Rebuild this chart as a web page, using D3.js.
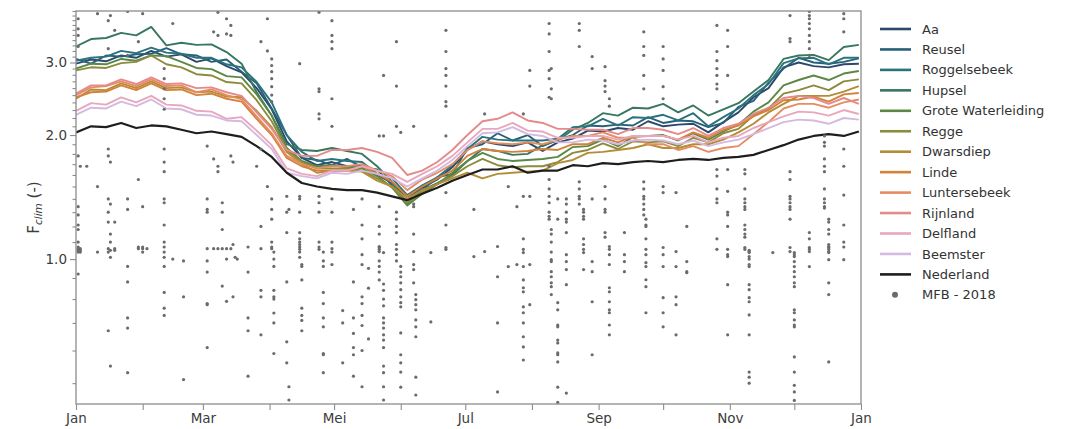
<!DOCTYPE html>
<html>
<head>
<meta charset="utf-8">
<script src="https://cdn.jsdelivr.net/npm/d3@7"></script>
<style>
  body { margin: 0; background: #fff; }
  svg { display: block; font-family: "DejaVu Sans", sans-serif; }
</style>
</head>
<body>
<svg id="chart" width="1070" height="429"></svg>
<script>
// ---- data -------------------------------------------------------------
// weekly samples (day of year 2018) of the climate factor per region
const weekDays = d3.range(0, 365, 7);

const seriesNames = ["Aa", "Reusel", "Roggelsebeek", "Hupsel", "Grote Waterleiding", "Regge",
  "Dwarsdiep", "Linde", "Luntersebeek", "Rijnland", "Delfland", "Beemster", "Nederland"];

const seriesColors = ["#2b4a6b", "#27607a", "#2b737c", "#37775f", "#5b8845", "#8b8b3c",
  "#b38d35", "#d4823b", "#e58c62", "#e58a8a", "#e9a7bd", "#d5b9e0", "#1e1e1e"];

const aa = [2.98,3.05,3.02,3.12,3.08,3.20,3.10,3.14,3.01,3.07,2.94,2.84,2.60,2.31,1.93,1.76,1.69,1.72,1.68,1.69,1.60,1.53,1.42,1.49,1.56,1.67,1.84,1.93,1.90,1.88,1.92,1.83,1.92,1.96,2.05,2.04,2.08,2.06,2.16,2.10,2.12,2.13,2.03,2.15,2.27,2.47,2.60,2.92,3.00,2.94,2.92,2.97,2.98];
const reusel = [3.06,2.98,3.12,3.10,3.14,3.15,3.25,3.14,3.12,3.01,3.05,2.85,2.67,2.32,2.00,1.76,1.74,1.69,1.75,1.67,1.65,1.51,1.42,1.47,1.58,1.61,1.86,1.90,2.02,1.94,2.00,1.88,1.95,2.00,2.11,2.10,2.12,2.11,2.21,2.14,2.17,2.16,2.09,2.14,2.34,2.42,2.68,2.90,3.08,3.00,2.98,3.01,3.07];
const roggelsebeek = [3.03,3.08,3.10,3.20,3.16,3.26,3.17,3.15,3.08,3.08,2.97,2.92,2.69,2.40,2.00,1.82,1.73,1.75,1.73,1.72,1.61,1.57,1.43,1.51,1.58,1.69,1.85,1.98,1.95,1.94,1.94,1.94,1.96,2.09,2.10,2.19,2.11,2.21,2.20,2.24,2.17,2.26,2.10,2.21,2.32,2.50,2.66,2.99,3.07,3.08,2.97,3.08,3.08];
const hupsel = [3.28,3.42,3.44,3.54,3.49,3.66,3.30,3.35,3.31,3.32,3.18,2.98,2.54,2.23,1.90,1.84,1.83,1.86,1.83,1.80,1.68,1.54,1.36,1.47,1.53,1.60,1.73,1.85,1.83,1.79,1.80,1.89,1.94,2.06,2.14,2.26,2.23,2.33,2.32,2.38,2.27,2.36,2.23,2.31,2.39,2.55,2.72,3.06,3.12,3.13,3.04,3.27,3.31];
const groteWaterleiding = [2.90,2.98,2.97,3.06,3.03,3.12,3.11,3.01,2.91,2.89,2.78,2.76,2.51,2.23,1.86,1.73,1.68,1.69,1.67,1.66,1.59,1.49,1.35,1.44,1.52,1.62,1.73,1.81,1.75,1.73,1.74,1.75,1.77,1.87,1.88,1.95,1.88,1.98,1.99,2.00,1.94,2.02,1.95,2.04,2.12,2.28,2.40,2.64,2.72,2.79,2.72,2.82,2.86];
const regge = [2.87,2.92,2.91,2.99,3.01,3.12,2.97,2.92,2.81,2.79,2.69,2.67,2.43,2.16,1.84,1.72,1.66,1.66,1.66,1.64,1.57,1.50,1.37,1.45,1.52,1.59,1.68,1.75,1.69,1.67,1.68,1.68,1.72,1.81,1.84,1.91,1.85,1.93,1.92,1.93,1.88,1.97,1.92,2.02,2.07,2.23,2.32,2.52,2.57,2.64,2.57,2.70,2.73];
const dwarsdiep = [2.45,2.58,2.57,2.67,2.60,2.70,2.60,2.61,2.54,2.55,2.48,2.47,2.29,2.09,1.82,1.70,1.62,1.64,1.64,1.63,1.55,1.50,1.40,1.47,1.52,1.57,1.62,1.57,1.61,1.62,1.63,1.64,1.71,1.74,1.81,1.82,1.84,1.86,1.90,1.86,1.86,1.90,1.90,1.95,2.03,2.13,2.27,2.38,2.49,2.49,2.49,2.55,2.63];
const linde = [2.47,2.54,2.55,2.64,2.57,2.67,2.57,2.58,2.50,2.52,2.45,2.41,2.19,2.00,1.76,1.68,1.64,1.64,1.64,1.68,1.61,1.54,1.42,1.50,1.57,1.64,1.78,1.85,1.83,1.82,1.83,1.85,1.84,1.90,1.90,1.97,1.92,1.99,1.99,1.99,1.95,2.03,1.97,2.06,2.11,2.22,2.30,2.43,2.44,2.48,2.41,2.51,2.53];
const luntersebeek = [2.50,2.61,2.63,2.70,2.63,2.73,2.63,2.64,2.54,2.58,2.50,2.44,2.22,2.02,1.78,1.70,1.66,1.68,1.68,1.70,1.64,1.59,1.47,1.56,1.62,1.70,1.84,1.93,1.91,1.90,1.92,1.90,1.95,1.99,1.99,2.03,1.97,1.97,1.90,1.90,1.84,1.88,1.82,1.86,1.88,2.01,2.15,2.32,2.38,2.38,2.33,2.40,2.44];
const rijnland = [2.52,2.64,2.64,2.73,2.66,2.76,2.66,2.67,2.60,2.61,2.54,2.49,2.27,2.07,1.84,1.78,1.78,1.84,1.84,1.86,1.82,1.76,1.60,1.64,1.72,1.84,2.00,2.16,2.19,2.27,2.17,2.14,2.07,2.07,2.06,2.06,2.01,2.08,2.08,2.06,2.01,2.08,1.99,2.08,2.13,2.25,2.33,2.46,2.49,2.46,2.38,2.46,2.38];
const delfland = [2.29,2.39,2.37,2.47,2.40,2.49,2.37,2.36,2.29,2.28,2.19,2.21,2.05,1.89,1.66,1.61,1.59,1.64,1.64,1.68,1.64,1.61,1.54,1.61,1.68,1.78,1.92,2.07,2.07,2.14,2.05,2.04,1.97,1.97,1.99,1.99,1.95,1.99,1.99,1.99,1.95,1.99,1.92,1.97,1.99,2.08,2.15,2.22,2.28,2.27,2.23,2.30,2.25];
const beemster = [2.24,2.33,2.32,2.41,2.35,2.44,2.32,2.31,2.24,2.23,2.17,2.16,2.00,1.85,1.62,1.59,1.57,1.62,1.61,1.64,1.61,1.57,1.50,1.57,1.64,1.74,1.88,2.02,2.03,2.09,2.01,1.99,1.92,1.92,1.95,1.94,1.90,1.94,1.95,1.94,1.90,1.94,1.88,1.92,1.95,2.01,2.08,2.15,2.18,2.17,2.13,2.20,2.18];
const nederland = [2.03,2.10,2.09,2.14,2.08,2.11,2.10,2.06,2.02,2.04,2.01,1.98,1.88,1.77,1.62,1.53,1.50,1.48,1.47,1.47,1.45,1.42,1.39,1.44,1.49,1.55,1.60,1.65,1.65,1.68,1.62,1.64,1.64,1.69,1.68,1.71,1.70,1.72,1.73,1.72,1.74,1.75,1.74,1.76,1.77,1.79,1.84,1.89,1.95,1.99,2.01,1.99,2.04];

const seriesValues = [aa, reusel, roggelsebeek, hupsel, groteWaterleiding, regge,
  dwarsdiep, linde, luntersebeek, rijnland, delfland, beemster, nederland];

// MFB 2018 observations: [day of year, [values on that day]]
const mfb2018 = [
  [1, [3.83,3.62,3.49,3.28,1.78,1.34,1.28,1.21,1.18,1.10,1.07,1.06,1.05,1.04,0.92]],
  [2, [1.68,1.06,1.04,1.05]],
  [5, [1.68]],
  [10, [3.94,1.50,1.04]],
  [15, [3.79,3.24,1.85,1.78,1.40,1.30,1.23,1.06,1.04,0.67]],
  [16, [3.90,1.72,1.36,1.15,1.10,1.05,1.01,0.55]],
  [18, [3.59,1.23,1.06,1.05]],
  [24, [3.99,3.12,1.40,1.32,0.96,0.88,0.72,0.68,0.53]],
  [29, [3.37,1.56,1.07,1.06]],
  [31, [3.94,1.34,1.07,1.06,1.04]],
  [33, [1.06]],
  [41, [2.90,2.74,2.59,2.45,2.31,1.85,1.72,1.63,1.40,1.37,1.21,1.10,1.07,1.04,1.01,0.96,0.83,0.76,0.73]],
  [45, [3.73,1.00]],
  [50, [0.99,0.81,0.51]],
  [61, [1.88,1.40,1.32,1.30,1.06,0.99,0.93,0.78,0.775,0.61]],
  [64, [3.56,1.75,1.06]],
  [66, [3.97,3.49,1.68,1.63,1.06]],
  [68, [1.37,1.30,1.18,1.06,0.86]],
  [70, [3.83,3.52,1.06,1.00,0.79]],
  [72, [3.69,3.49,1.78,1.06]],
  [73, [1.72,1.085,0.81]],
  [74, [1.01]],
  [75, [1.00]],
  [80, [1.07,0.93,0.72,0.67,0.52]],
  [84, [1.68]],
  [86, [3.37,1.85,1.20,1.06,0.84,0.81,0.655]],
  [89, [3.83,3.20,1.50]],
  [91, [3.06,2.95,2.85,2.74,2.62,2.50,2.41,1.40,1.32,1.25,1.10,1.07,1.06]],
  [92, [1.04,1.00,0.96,0.84,0.81,0.80,0.74,0.70,0.59]],
  [98, [1.42,1.30,1.16,0.88,0.63,0.56]],
  [99, [1.32,0.49,0.455]],
  [104, [2.98,1.42,1.40,1.30,1.16,1.12,1.10,1.085,1.07,1.056,1.04,1.01]],
  [105, [0.97,0.96,0.89,0.76,0.73,0.71,0.67]],
  [113, [3.97,2.59,2.55,2.25,2.19,1.42,1.37,1.30,1.10,1.07,1.056]],
  [115, [1.04,0.99,0.96,0.83,0.78,0.72,0.685,0.59,0.586,0.53]],
  [119, [3.79,3.49,3.37,3.24,2.45,2.10,1.40,1.30,1.10,1.06,1.04,0.97]],
  [124, [0.75,0.70,0.56]],
  [129, [1.32,0.88,0.72,0.66,0.61,0.586,0.52]],
  [133, [1.40,1.21,1.12,1.025,0.97,0.81,0.78,0.73,0.69,0.60,0.49]],
  [136, [0.95,0.85,0.64]],
  [141, [1.99,1.34,1.20,1.15,1.073,1.067,1.056,1.043,0.99,0.96,0.93,0.89]],
  [143, [2.79,1.99,1.037,0.87,0.84,0.80,0.77,0.72,0.70,0.68,0.655,0.636,0.61,0.55,0.53,0.49,0.455]],
  [149, [3.37,2.63,2.10,1.30,1.25,1.20,1.16,1.085,1.056,1.025,0.99]],
  [151, [2.03,0.96,0.93,0.906,0.876,0.843,0.81,0.784,0.766,0.662,0.586,0.56,0.532,0.489]],
  [157, [2.10,1.36,1.34,1.15,1.043,0.97,0.943,0.876]],
  [158, [0.82,0.797,0.775,0.753,0.712,0.685,0.648,0.517,0.468]],
  [165, [1.037,0.704]],
  [172, [3.59,3.19,2.90,2.79,2.63,2.41,2.35,1.99,1.45,1.21,1.067,1.056]],
  [185, [1.32,1.014]],
  [190, [2.25,1.043]],
  [196, [1.073,0.906,0.70,0.476]],
  [201, [1.50,0.959]],
  [205, [1.34,0.97]],
  [208, [2.25,1.42,1.12,1.056,1.037,0.959,0.89,0.852,0.833,0.766,0.741,0.70,0.648,0.612,0.569]],
  [211, [2.87,2.63,1.42,0.97,0.775]],
  [220, [3.73,3.52,3.19,2.87,2.74,2.47,1.68,1.56,1.48,1.42,1.37,1.30,1.27,1.25]],
  [221, [2.90,2.59,2.45,1.18,1.15,1.10,1.04,0.997,0.986,0.932,0.906,0.876,0.857,0.82]],
  [224, [1.40,1.25,0.784,0.753,0.692,0.685,0.636,0.626,0.592,0.586,0.563,0.489,0.449]],
  [228, [1.40,1.36,1.30,1.25,1.23,1.16,1.025,0.986,0.943,0.867,0.473]],
  [234, [3.73,3.59,3.28,1.54,1.48,1.42,1.40,1.36]],
  [236, [1.32,1.30,1.27,1.25,1.12,1.085,1.056,1.037,0.943]],
  [240, [3.10,2.90,1.40,0.986,0.932,0.788,0.586]],
  [246, [2.93,2.71,2.63,2.55,1.50,1.40,1.32,1.30,1.16,1.13]],
  [248, [2.45,2.35,1.073,1.056,1.025,0.97,0.852,0.833,0.788,0.753,0.741,0.692,0.655]],
  [255, [1.16,1.025,0.986,0.932]],
  [264, [3.56,3.28,3.12,2.79,2.59,1.54,1.48,1.42,1.40,1.36,1.32,1.28]],
  [265, [1.25,1.21,1.20,1.12,1.056,1.025,0.98,0.959,0.891,0.857,0.741]],
  [273, [3.28,3.06,2.87,2.62,2.45,1.50,1.45,1.067,1.025,0.959,0.806,0.741,0.685]],
  [279, [1.45,1.043,0.959,0.81,0.775,0.655]],
  [284, [1.20,0.986,0.932,0.927]],
  [298, [3.69,3.19,3.03,2.90,2.79,2.66,2.59,2.41,1.65,1.59,1.48,1.40,1.37,1.12,1.056]],
  [303, [3.59,3.28,2.79,1.65,1.46,1.30,1.28,1.20,1.056,1.025,1.014,0.867,0.655]],
  [311, [1.65,1.61,1.48,1.40,1.37,1.34,1.32,1.21,1.18,1.15,1.13,1.067,1.056]],
  [313, [1.05,1.043,1.037,1.014,1.0,0.97,0.959,0.867,0.843,0.806,0.788,0.732,0.655,0.532,0.517,0.50]],
  [324, [1.037]],
  [332, [3.90,3.43,3.37,1.63,1.56,1.42,1.37,1.40,1.34,1.32,1.25,1.067,1.043]],
  [334, [1.037,1.025,1.014,0.986,0.959,0.932,0.906,0.876,0.857,0.753,0.741,0.712,0.692,0.685,0.579,0.532,0.494,0.476,0.454]],
  [341, [3.99,3.90,3.83,3.73,3.62,3.49,3.37,3.24,3.12,1.16,1.12,1.067,1.056,1.043,0.959]],
  [348, [1.99,1.92,1.88,1.75,1.68,1.63,1.48,1.40,1.34,1.37,1.33]],
  [350, [1.25,1.23,1.18,1.15,1.085,1.073,1.067,1.056,1.043,1.037,0.997,0.876,0.82,0.563]],
  [357, [3.94,3.83,3.56,1.85,1.68,1.43,1.21,1.10,1.07,0.997]]
];

const monthLabels = ["Jan","Feb","Mar","Apr","Mei","Jun","Jul","Aug","Sep","Okt","Nov","Dec","Jan"];
const yMajorTicks = [1, 2, 3];
const yMajorLabels = ["1.0", "2.0", "3.0"];
const yMinorTicks = [0.5,0.6,0.7,0.8,0.9,1.1,1.2,1.3,1.4,1.5,1.6,1.7,1.8,1.9,
  2.1,2.2,2.3,2.4,2.5,2.6,2.7,2.8,2.9,3.1,3.2,3.3,3.4,3.5,3.6,3.7,3.8,3.9,4.0];
const yDomain = [0.445, 4.0];
const mfbLabel = "MFB - 2018";

// ---- layout -----------------------------------------------------------
const box = { left: 76, right: 861, top: 11, bottom: 404 };
const svg = d3.select("#chart");
const t0 = Date.UTC(2018, 0, 1);
const dayDate = d => new Date(t0 + d * 864e5);

const x = d3.scaleUtc().domain([dayDate(0), new Date(Date.UTC(2019, 0, 1))]).range([box.left, box.right]);
const y = d3.scaleLog().domain(yDomain).range([box.bottom, box.top]);

svg.append("defs").append("clipPath").attr("id", "plotclip")
  .append("rect").attr("x", box.left).attr("y", box.top)
  .attr("width", box.right - box.left).attr("height", box.bottom - box.top);

const plot = svg.append("g").attr("clip-path", "url(#plotclip)");

// lines
const line = d3.line().x((d, i) => x(dayDate(weekDays[i]))).y(d => y(d));
seriesValues.forEach((vals, k) => {
  plot.append("path")
    .datum(vals.slice(0, weekDays.length))
    .attr("d", line)
    .attr("fill", "none")
    .attr("stroke", seriesColors[k])
    .attr("stroke-width", k === 12 ? 2.2 : 1.9)
    .attr("stroke-linejoin", "round");
});

// observations
const pts = mfb2018.flatMap(([d, vs]) => vs.map(v => [d, v]));
plot.append("g").selectAll("circle").data(pts).join("circle")
  .attr("cx", d => x(dayDate(d[0])))
  .attr("cy", d => y(d[1]))
  .attr("r", 1.6)
  .attr("fill", "#6b6b6b");

// axes
const axisColor = "#8c8c8c";
const months = d3.range(13).map(m => new Date(Date.UTC(2018, m, 1)));
const xAxis = svg.append("g").attr("transform", `translate(0,${box.bottom})`)
  .call(d3.axisBottom(x).tickValues(months)
    .tickFormat((d, i) => i % 2 === 0 ? monthLabels[i] : "")
    .tickSize(6).tickPadding(3));
const yAxis = svg.append("g").attr("transform", `translate(${box.left},0)`)
  .call(d3.axisLeft(y).tickValues(yMajorTicks)
    .tickFormat((d, i) => yMajorLabels[i]).tickSize(6).tickPadding(3));
const yMinor = svg.append("g").attr("transform", `translate(${box.left},0)`)
  .call(d3.axisLeft(y).tickValues(yMinorTicks).tickFormat("").tickSize(3.5));

[xAxis, yAxis, yMinor].forEach(g => {
  g.select(".domain").remove();
  g.selectAll(".tick line").attr("stroke", axisColor).attr("stroke-width", 1.1);
  g.selectAll(".tick text").attr("fill", "#3c3c3c").attr("font-size", 13.5)
    .attr("font-family", "DejaVu Sans, sans-serif");
});

svg.append("rect")
  .attr("x", box.left).attr("y", box.top)
  .attr("width", box.right - box.left).attr("height", box.bottom - box.top)
  .attr("fill", "none").attr("stroke", axisColor).attr("stroke-width", 1.3);

// y label
const yl = svg.append("text")
  .attr("transform", `translate(39,${(box.top + box.bottom) / 2}) rotate(-90)`)
  .attr("text-anchor", "middle").attr("fill", "#3c3c3c").attr("font-size", 15);
yl.append("tspan").text("F");
yl.append("tspan").attr("font-size", 10.5).attr("font-style", "italic").attr("dy", 3).text("clim");
yl.append("tspan").attr("dy", -3).text(" (-)");

// legend
const leg = svg.append("g");
const legTop = 29, legStep = 20.45;
seriesNames.forEach((name, k) => {
  const ly = legTop + k * legStep;
  leg.append("line").attr("x1", 880).attr("x2", 911).attr("y1", ly).attr("y2", ly)
    .attr("stroke", seriesColors[k]).attr("stroke-width", 2.6);
  leg.append("text").attr("x", 922).attr("y", ly).attr("dy", "0.35em")
    .attr("font-size", 13).attr("fill", "#333").text(name);
});
const mfbY = legTop + seriesNames.length * legStep;
leg.append("circle").attr("cx", 895).attr("cy", mfbY).attr("r", 3).attr("fill", "#6b6b6b");
leg.append("text").attr("x", 922).attr("y", mfbY).attr("dy", "0.35em")
  .attr("font-size", 13).attr("fill", "#333").text(mfbLabel);
</script>
</body>
</html>
